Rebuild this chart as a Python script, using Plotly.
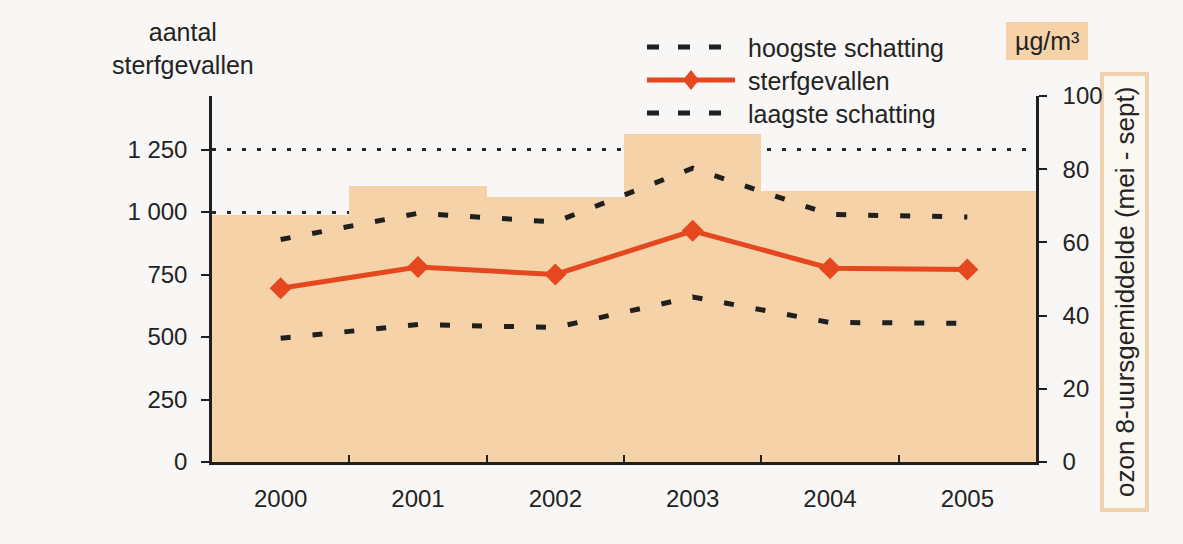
import plotly.graph_objects as go

# --- data -------------------------------------------------------------
years = ["2000", "2001", "2002", "2003", "2004", "2005"]
ozon_gemiddelde = [67.5, 75.5, 72.5, 89.5, 74, 74]          # µg/m³, right axis
hoogste_schatting = [890, 995, 960, 1175, 990, 980]         # deaths, left axis
sterfgevallen = [695, 780, 750, 925, 775, 770]
laagste_schatting = [495, 550, 538, 660, 558, 555]

left_tickvals = [0, 250, 500, 750, 1000, 1250]
left_ticktext = ["0", "250", "500", "750", "1 000", "1 250"]
right_tickvals = [0, 20, 40, 60, 80, 100]

# --- styling ----------------------------------------------------------
W, H = 1183, 544
L, R, T, B = 212, 1036, 96, 462          # plot area in pixels
FONT = "Liberation Sans, Arial, sans-serif"
TXT = "#232323"
BAR = "#f5d2a8"
RED = "#e5481f"
DARK = "#1f1f1f"
BG = "#f8f7f5"


def px(x):
    """pixel x -> paper x"""
    return (x - L) / (R - L)


def py(y):
    """pixel y -> paper y"""
    return (B - y) / (B - T)


fig = go.Figure()

fig.add_trace(go.Bar(
    x=years, y=ozon_gemiddelde, yaxis="y",
    marker=dict(color=BAR, line=dict(width=0)),
    name="ozon",
))

dash_pattern = "10px,22px"
fig.add_trace(go.Scatter(
    x=years, y=hoogste_schatting, yaxis="y2", mode="lines",
    line=dict(color=DARK, width=5, dash=dash_pattern),
    name="hoogste schatting",
))
fig.add_trace(go.Scatter(
    x=years, y=laagste_schatting, yaxis="y2", mode="lines",
    line=dict(color=DARK, width=5, dash=dash_pattern),
    name="laagste schatting",
))
fig.add_trace(go.Scatter(
    x=years, y=sterfgevallen, yaxis="y2", mode="lines+markers",
    line=dict(color=RED, width=5),
    marker=dict(symbol="diamond", size=17, color=RED),
    name="sterfgevallen",
))

# --- hand-built legend ------------------------------------------------
shapes = []
annotations = []
legend_rows = [("hoogste schatting", 47, "dash"),
               ("sterfgevallen", 80, "solid"),
               ("laagste schatting", 113, "dash")]
for label, yy, kind in legend_rows:
    if kind == "dash":
        shapes.append(dict(type="line", xref="paper", yref="paper",
                           x0=px(647), x1=px(722), y0=py(yy), y1=py(yy),
                           line=dict(color=DARK, width=5, dash="12px,19px")))
    else:
        shapes.append(dict(type="line", xref="paper", yref="paper",
                           x0=px(647), x1=px(735), y0=py(yy), y1=py(yy),
                           line=dict(color=RED, width=5)))
        cx, cy, hw, hh = 691, yy, 8, 10
        path = (f"M {px(cx - hw)},{py(cy)} L {px(cx)},{py(cy - hh)} "
                f"L {px(cx + hw)},{py(cy)} L {px(cx)},{py(cy + hh)} Z")
        shapes.append(dict(type="path", xref="paper", yref="paper", path=path,
                           fillcolor=RED, line=dict(width=0)))
    annotations.append(dict(text=label, xref="paper", yref="paper",
                            x=px(746), y=py(yy + 1), xanchor="left", yanchor="middle",
                            showarrow=False, font=dict(family=FONT, size=25, color=TXT)))

# unit box above right axis
shapes.append(dict(type="rect", xref="paper", yref="paper",
                   x0=px(1006), x1=px(1088), y0=py(22), y1=py(60),
                   fillcolor=BAR, line=dict(width=0), layer="below"))
annotations.append(dict(text="µg/m³", xref="paper", yref="paper",
                        x=px(1047), y=py(41), xanchor="center", yanchor="middle",
                        showarrow=False, font=dict(family=FONT, size=25, color=TXT)))

# framed right-axis title
shapes.append(dict(type="rect", xref="paper", yref="paper",
                   x0=px(1102), x1=px(1147), y0=py(74), y1=py(510),
                   fillcolor="#fbf7f1", line=dict(color="#f2d2ad", width=4), layer="below"))
annotations.append(dict(text="ozon 8-uursgemiddelde (mei - sept)", xref="paper", yref="paper",
                        x=px(1125), y=py(292), xanchor="center", yanchor="middle",
                        textangle=-90, showarrow=False,
                        font=dict(family=FONT, size=26, color=TXT)))

# left-axis title
annotations.append(dict(text="aantal<br>sterfgevallen", xref="paper", yref="paper",
                        x=px(183), y=py(48), xanchor="center", yanchor="middle",
                        align="center", showarrow=False,
                        font=dict(family=FONT, size=25, color=TXT)))

fig.update_layout(
    width=W, height=H,
    margin=dict(l=L, r=W - R, t=T, b=H - B, pad=0),
    paper_bgcolor=BG, plot_bgcolor="rgba(0,0,0,0)",
    showlegend=False, hovermode=False,
    bargap=0,
    font=dict(family=FONT, size=24, color=TXT),
    shapes=shapes, annotations=annotations,
    xaxis=dict(
        type="category", range=[-0.5, 5.5],
        showline=True, linecolor=DARK, linewidth=2.5,
        ticks="inside", tickson="boundaries", ticklen=7, tickwidth=2, tickcolor=DARK,
        showgrid=False, zeroline=False,
        tickfont=dict(family=FONT, size=24, color=TXT),
        ticklabelstandoff=13,
    ),
    yaxis=dict(
        side="right", range=[0, 100],
        tickvals=right_tickvals,
        showline=True, linecolor=DARK, linewidth=2.5,
        ticks="outside", ticklen=8, tickwidth=2, tickcolor=DARK,
        showgrid=False, zeroline=False,
        tickfont=dict(family=FONT, size=24, color=TXT),
        ticklabelstandoff=11,
    ),
    yaxis2=dict(
        side="left", overlaying="y", range=[0, 1464],
        tickvals=left_tickvals, ticktext=left_ticktext,
        showline=True, linecolor=DARK, linewidth=2.5,
        ticks="outside", ticklen=8, tickwidth=2, tickcolor=DARK,
        showgrid=True, gridcolor="#262626", gridwidth=3, griddash="4px,11px",
        zeroline=False,
        tickfont=dict(family=FONT, size=24, color=TXT),
        ticklabelstandoff=9,
    ),
)

fig.write_html("out.html")
